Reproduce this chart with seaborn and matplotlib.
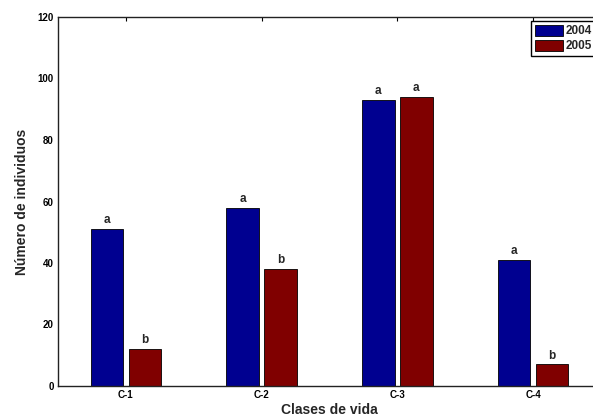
import numpy as np
import pandas as pd
import matplotlib
matplotlib.use("Agg")
import matplotlib.pyplot as plt
import seaborn as sns

clases = ["C-1", "C-2", "C-3", "C-4"]
years = ["2004", "2005"]
n_2004 = [51, 58, 93, 41]
n_2005 = [12, 38, 94, 7]
letras_2004 = ["a", "a", "a", "a"]
letras_2005 = ["b", "b", "a", "b"]

df = pd.DataFrame({
    "clase": clases * 2,
    "anio": [years[0]] * 4 + [years[1]] * 4,
    "n": n_2004 + n_2005,
})

sns.set_style("white")
plt.rcParams["font.family"] = ["Liberation Sans", "DejaVu Sans"]
plt.rcParams["font.weight"] = "bold"

fig = plt.figure(figsize=(5.93, 4.18), dpi=100)
ax = fig.add_axes([58 / 593, 32 / 418, 543 / 593, 369 / 418])

sns.barplot(data=df, x="clase", y="n", hue="anio", hue_order=years,
            palette=["#000090", "#800000"], saturation=1,
            width=0.56, gap=0.15,
            edgecolor="black", linewidth=0.6, legend=False, ax=ax)

for cont, labs in zip(ax.containers, [letras_2004, letras_2005]):
    ax.bar_label(cont, labels=labs, padding=2, fontsize=8.5, fontweight="bold")

ax.set_xlim(-0.5, 3.5)
ax.set_ylim(0, 120)
ax.set_yticks([0, 20, 40, 60, 80, 100, 120])
ax.tick_params(direction="in", length=3, width=0.8, top=True, right=True,
               labelsize=7, pad=3, colors="black")
for lab in ax.get_xticklabels() + ax.get_yticklabels():
    lab.set_fontweight("bold")
for sp in ax.spines.values():
    sp.set_color("#222222")
    sp.set_linewidth(1.0)

ax.set_xlabel("Clases de vida", fontsize=10, fontweight="bold", labelpad=1)
ax.set_ylabel("Número de individuos", fontsize=10, fontweight="bold", labelpad=6)
ax.xaxis.set_label_coords(0.5, -0.045)

handles = [ax.containers[0].patches[0], ax.containers[1].patches[0]]
leg = fig.legend(handles, years, loc="upper left",
                 bbox_to_anchor=(531 / 593, 1 - 21 / 418),
                 prop={"weight": "bold", "size": 8.5},
                 handlelength=2.4, handleheight=1.1, handletextpad=0.2,
                 borderpad=0.3, labelspacing=0.2, borderaxespad=0,
                 fancybox=False, framealpha=1, edgecolor="black")
leg.get_frame().set_linewidth(1.0)

fig.savefig("out.png", dpi=100)
